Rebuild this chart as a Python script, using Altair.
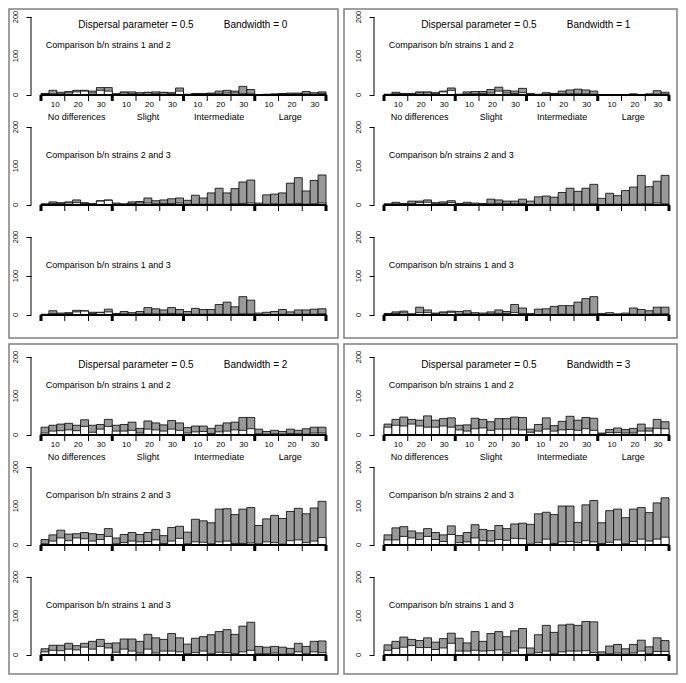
import altair as alt
import pandas as pd

GROUPS = ["No differences", "Slight", "Intermediate", "Large"]
COMPARISONS = ["Comparison b/n strains 1 and 2",
               "Comparison b/n strains 2 and 3",
               "Comparison b/n strains 1 and 3"]
BANDWIDTHS = [0, 1, 2, 3]
DISPERSAL = 0.5
TICK_LABELS = ["10", "20", "30"]
Y_TICKS = [0, 50, 100, 150, 200]
Y_LABELS = [0, 100, 200]

# ---- Bandwidth 0 ----
bw0_c12_total = [4, 12, 7, 9, 12, 12, 10, 19, 19, 3, 8, 8, 6, 7, 8, 7, 6, 18,
                 2, 4, 4, 5, 10, 12, 10, 22, 14, 1, 2, 3, 4, 5, 5, 9, 6, 8]
bw0_c12_white = [2, 3, 3, 5, 8, 10, 5, 12, 10, 3, 5, 3, 2, 5, 3, 5, 3, 10,
                 1, 2, 2, 3, 3, 5, 5, 3, 3, 0, 1, 1, 2, 2, 3, 3, 2, 4]
bw0_c23_total = [3, 8, 6, 8, 13, 6, 4, 11, 13, 5, 3, 8, 9, 18, 11, 13, 16, 18,
                 12, 25, 18, 31, 43, 31, 42, 59, 64, 5, 26, 28, 31, 56, 70, 36, 63, 77]
bw0_c23_white = [2, 4, 4, 5, 6, 4, 3, 10, 12, 2, 2, 4, 5, 5, 3, 4, 4, 5,
                 2, 2, 2, 2, 2, 2, 3, 4, 5, 1, 2, 3, 2, 3, 4, 2, 3, 5]
bw0_c13_total = [2, 11, 5, 6, 12, 11, 7, 7, 15, 4, 9, 6, 9, 19, 16, 13, 19, 14,
                 9, 17, 14, 14, 27, 33, 21, 47, 38, 5, 7, 9, 14, 8, 13, 13, 15, 16]
bw0_c13_white = [1, 4, 3, 4, 8, 10, 4, 6, 8, 2, 3, 2, 3, 3, 3, 3, 4, 3,
                 2, 2, 2, 2, 2, 2, 2, 3, 3, 1, 1, 1, 2, 1, 2, 2, 2, 3]

# ---- Bandwidth 1 ----
bw1_c12_total = [2, 7, 4, 4, 8, 8, 6, 10, 18, 2, 8, 9, 9, 14, 20, 12, 10, 17,
                 4, 2, 6, 4, 10, 13, 15, 13, 10, 1, 1, 1, 1, 3, 1, 3, 11, 7]
bw1_c12_white = [1, 3, 2, 3, 5, 5, 3, 8, 12, 1, 3, 3, 4, 5, 10, 5, 4, 6,
                 1, 1, 2, 2, 3, 3, 3, 3, 2, 0, 0, 0, 0, 1, 0, 1, 2, 2]
bw1_c23_total = [3, 7, 4, 10, 10, 13, 6, 8, 11, 4, 7, 5, 4, 15, 13, 10, 10, 15,
                 10, 21, 23, 20, 32, 43, 35, 43, 53, 17, 30, 24, 37, 46, 76, 47, 61, 76]
bw1_c23_white = [2, 3, 2, 4, 6, 7, 3, 4, 6, 2, 3, 2, 2, 3, 4, 3, 3, 4,
                 1, 2, 2, 2, 2, 3, 2, 2, 3, 1, 2, 2, 2, 2, 3, 3, 5, 3]
bw1_c13_total = [4, 8, 10, 3, 20, 13, 5, 8, 10, 9, 11, 6, 5, 8, 13, 9, 27, 18,
                 4, 15, 16, 22, 24, 24, 33, 42, 47, 4, 6, 3, 5, 18, 14, 11, 20, 20]
bw1_c13_white = [2, 4, 5, 2, 6, 6, 3, 5, 7, 2, 3, 2, 2, 3, 4, 4, 6, 4,
                 1, 1, 2, 1, 2, 2, 2, 2, 3, 1, 1, 1, 1, 2, 2, 2, 3, 3]

# ---- Bandwidth 2 ----
bw2_c12_total = [20, 25, 28, 30, 25, 39, 25, 27, 40, 25, 27, 33, 17, 36, 31, 26, 37, 31,
                 19, 23, 23, 17, 25, 31, 33, 45, 45, 15, 9, 12, 9, 15, 12, 16, 20, 20]
bw2_c12_white = [5, 10, 11, 13, 11, 22, 7, 15, 22, 10, 10, 12, 5, 15, 13, 10, 15, 12,
                 5, 8, 9, 4, 8, 10, 13, 12, 16, 3, 2, 3, 2, 4, 3, 2, 5, 5]
bw2_c23_total = [14, 26, 38, 28, 29, 32, 29, 27, 42, 18, 27, 32, 27, 32, 40, 24, 45, 48,
                 33, 66, 62, 57, 92, 93, 78, 92, 96, 50, 67, 76, 68, 86, 94, 80, 95, 112]
bw2_c23_white = [3, 10, 18, 11, 18, 16, 10, 14, 22, 3, 6, 10, 8, 9, 13, 4, 10, 17,
                 3, 8, 7, 3, 8, 10, 4, 4, 5, 3, 8, 6, 2, 11, 13, 6, 10, 19]
bw2_c13_total = [16, 25, 25, 30, 24, 30, 35, 40, 30, 31, 41, 41, 35, 53, 44, 40, 55, 44,
                 28, 43, 47, 52, 60, 65, 53, 74, 84, 22, 20, 22, 20, 17, 30, 22, 35, 36]
bw2_c13_white = [8, 12, 11, 15, 13, 20, 15, 22, 18, 7, 15, 10, 5, 15, 5, 10, 10, 8,
                 3, 6, 10, 3, 7, 6, 3, 8, 12, 3, 3, 5, 2, 3, 8, 3, 8, 6]

# ---- Bandwidth 3 ----
bw3_c12_total = [28, 40, 46, 40, 38, 49, 38, 42, 44, 25, 26, 43, 40, 34, 42, 42, 46, 45,
                 15, 27, 44, 24, 35, 48, 38, 45, 43, 5, 14, 18, 14, 17, 28, 18, 40, 34]
bw3_c12_white = [20, 25, 23, 28, 23, 20, 20, 23, 20, 13, 10, 16, 18, 12, 15, 15, 15, 13,
                 7, 10, 15, 10, 13, 14, 12, 16, 12, 3, 6, 6, 5, 5, 10, 10, 17, 16]
bw3_c23_total = [26, 44, 47, 36, 31, 42, 32, 26, 49, 24, 32, 52, 40, 37, 50, 42, 54, 56,
                 53, 80, 84, 78, 100, 100, 58, 103, 114, 57, 88, 92, 70, 92, 96, 83, 108, 121]
bw3_c23_white = [13, 13, 22, 18, 14, 22, 14, 9, 27, 6, 8, 18, 11, 10, 14, 12, 17, 16,
                 2, 6, 15, 4, 8, 9, 6, 11, 8, 4, 7, 13, 3, 9, 15, 10, 15, 20]
bw3_c13_total = [26, 35, 46, 40, 37, 44, 33, 42, 56, 43, 31, 60, 35, 55, 60, 47, 62, 68,
                 18, 52, 76, 58, 77, 79, 76, 86, 85, 8, 23, 27, 16, 27, 38, 21, 44, 37]
bw3_c13_white = [12, 17, 20, 24, 19, 19, 14, 18, 30, 10, 10, 12, 10, 11, 13, 5, 10, 18,
                 2, 6, 10, 3, 8, 10, 10, 11, 6, 1, 3, 5, 2, 5, 10, 3, 9, 9]

SERIES = {
    0: [(bw0_c12_total, bw0_c12_white), (bw0_c23_total, bw0_c23_white), (bw0_c13_total, bw0_c13_white)],
    1: [(bw1_c12_total, bw1_c12_white), (bw1_c23_total, bw1_c23_white), (bw1_c13_total, bw1_c13_white)],
    2: [(bw2_c12_total, bw2_c12_white), (bw2_c23_total, bw2_c23_white), (bw2_c13_total, bw2_c13_white)],
    3: [(bw3_c12_total, bw3_c12_white), (bw3_c23_total, bw3_c23_white), (bw3_c13_total, bw3_c13_white)],
}

# ---- layout constants (pixels) ----
FONT = "Liberation Sans"
W = 285            # plot width (36 bars)
H = 78             # plot height for 0..200
NBARS = 36
PXU = H / 200.0    # pixels per y unit
PXX = W / NBARS    # pixels per bar
GRAY = "#999999"
BOX = "#808080"


def ux(px):
    return px / PXX


def uy(px):
    return px / PXU


def subplot(bw, comp, panel_row, col):
    total, white = SERIES[bw][comp]
    extra = 10 if (panel_row == 0 and comp == 2) else 0
    height = H + extra
    ymin = -uy(extra)

    df = pd.DataFrame({"i": list(range(NBARS)), "total": total, "white": white})
    df["i2"] = df["i"] + 1
    df["zero"] = 0

    xs = alt.Scale(domain=[0, NBARS], nice=False, zero=False)
    ys = alt.Scale(domain=[ymin, 200], nice=False, zero=False)
    yaxis = alt.Axis(values=Y_TICKS, labels=False, offset=10, tickSize=5,
                     tickColor="black", tickWidth=1, domain=False, grid=False, title=None)

    base = alt.Chart(df)
    gray = base.mark_rect(fill=GRAY, stroke="black", strokeWidth=0.8).encode(
        x=alt.X("i:Q", scale=xs, axis=None), x2="i2:Q",
        y=alt.Y("total:Q", scale=ys, axis=yaxis), y2="zero:Q")
    whit = base.mark_rect(fill="white", stroke="black", strokeWidth=0.8).encode(
        x="i:Q", x2="i2:Q", y="white:Q", y2="zero:Q")

    one = pd.DataFrame({"k": [0]})
    yline = alt.Chart(one).mark_rule(color="black", strokeWidth=1).encode(
        x=alt.value(-10), y=alt.datum(0), y2=alt.datum(200))
    ylab_df = pd.DataFrame({"v": Y_LABELS, "t": [str(v) for v in Y_LABELS]})
    ylabs = alt.Chart(ylab_df).mark_text(angle=270, align="center", baseline="middle",
                                         fontSize=7.5, font=FONT, color="black").encode(
        x=alt.value(-25), y="v:Q", text="t:N")
    baseline = alt.Chart(one).mark_rule(color="black", strokeWidth=2).encode(
        x=alt.datum(0), x2=alt.datum(NBARS), y=alt.datum(0))

    tick_pos = list(range(0, NBARS + 1, 3))
    ticks_df = pd.DataFrame({"pos": tick_pos, "w": [3 if p % 9 == 0 else 1 for p in tick_pos]})
    ticks = alt.Chart(ticks_df).mark_rule(color="black").encode(
        x="pos:Q", y=alt.datum(0), y2=alt.datum(-uy(6)),
        strokeWidth=alt.StrokeWidth("w:Q", scale=None))

    comp_txt = alt.Chart(one).mark_text(align="left", baseline="middle", fontSize=9,
                                        font=FONT, color="black").encode(
        x=alt.datum(0.6), y=alt.datum(127), text=alt.value(COMPARISONS[comp]))

    layers = [gray, whit, yline, ylabs, baseline, ticks, comp_txt]

    if comp == 0:
        tl = []
        for g in range(4):
            for k, lab in enumerate(TICK_LABELS):
                tl.append({"pos": g * 9 + [1.8, 4.7, 7.6][k], "t": lab})
        tl_df = pd.DataFrame(tl)
        tick_lab = alt.Chart(tl_df).mark_text(baseline="middle", fontSize=8, font=FONT,
                                              color="black").encode(
            x="pos:Q", y=alt.datum(-uy(9.5)), text="t:N")
        gl_df = pd.DataFrame({"pos": [g * 9 + 4.5 for g in range(4)], "t": GROUPS})
        grp_lab = alt.Chart(gl_df).mark_text(baseline="middle", fontSize=9, font=FONT,
                                             color="black").encode(
            x="pos:Q", y=alt.datum(-uy(22)), text="t:N")
        title1 = alt.Chart(one).mark_text(baseline="middle", fontSize=10, font=FONT,
                                          color="black").encode(
            x=alt.datum(12.0), y=alt.datum(180),
            text=alt.value(f"Dispersal parameter = {DISPERSAL}"))
        title2 = alt.Chart(one).mark_text(baseline="middle", fontSize=10, font=FONT,
                                          color="black").encode(
            x=alt.datum(27.1), y=alt.datum(180),
            text=alt.value(f"Bandwidth = {bw}"))
        # panel frame
        if col == 0:
            bx1, bx2 = ux(-32), ux(297)
        else:
            bx1, bx2 = ux(-40), ux(293)
        if panel_row == 0:
            by1, by2 = 200 + uy(8), 200 - uy(321)
        else:
            by1, by2 = 200 + uy(13), 200 - uy(317)
        frame = alt.Chart(one).mark_rect(fillOpacity=0, stroke=BOX, strokeWidth=1.5).encode(
            x=alt.datum(bx1), x2=alt.datum(bx2), y=alt.datum(by1), y2=alt.datum(by2))
        layers += [tick_lab, grp_lab, title1, title2, frame]

    return alt.layer(*layers).properties(width=W, height=height)


charts = []
for pr in range(2):
    for comp in range(3):
        for col in range(2):
            bw = BANDWIDTHS[pr * 2 + col]
            charts.append(subplot(bw, comp, pr, col))

chart = alt.concat(*charts, columns=2, spacing={"row": 32, "column": 58},
                   bounds="flush").properties(padding=0).configure(
    font=FONT).configure_view(stroke="transparent", strokeWidth=0)

chart.save("out.html", embed_options={"renderer": "svg", "actions": False})
